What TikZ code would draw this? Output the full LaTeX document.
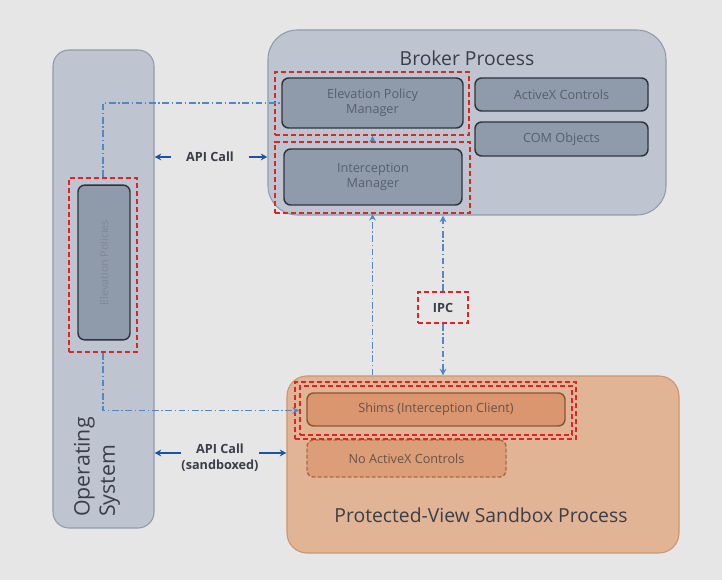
\documentclass[tikz,border=0pt]{standalone}
\usepackage{fontspec}
\setmainfont{Open Sans}
\usetikzlibrary{arrows.meta, positioning}
\definecolor{bgcol}{RGB}{230,230,231}
\definecolor{boxfill}{RGB}{190,197,208}
\definecolor{boxline}{RGB}{145,155,170}
\definecolor{partfill}{RGB}{143,154,170}
\definecolor{partline}{RGB}{45,52,62}
\definecolor{parttext}{RGB}{88,95,108}
\definecolor{sbfill}{RGB}{226,180,150}
\definecolor{sbline}{RGB}{205,148,110}
\definecolor{shimfill}{RGB}{218,150,110}
\definecolor{shimline}{RGB}{140,85,50}
\definecolor{shimtext}{RGB}{105,82,70}
\definecolor{noaxfill}{RGB}{220,158,120}
\definecolor{noaxline}{RGB}{175,105,60}
\definecolor{redline}{RGB}{225,35,35}
\definecolor{flowcol}{RGB}{85,135,195}
\definecolor{callcol}{RGB}{25,85,160}
\definecolor{titletext}{RGB}{58,62,72}

\begin{document}
\begin{tikzpicture}[x=0.75pt, y=-0.75pt,
  procbox/.style={draw=boxline, fill=boxfill, rounded corners=12pt, line width=0.8pt},
  part/.style={draw=partline, fill=partfill, rounded corners=5pt, line width=1.1pt,
    text=parttext, font=\fontsize{9.5}{11.5}\selectfont, align=center, inner sep=1pt},
  redbox/.style={draw=redline, dash pattern=on 4pt off 2pt, line width=1.4pt, inner sep=0pt},
  flow/.style={draw=flowcol, dash pattern=on 5pt off 2pt on 1pt off 2pt, line width=0.8pt},
  tip/.style={-{Stealth[length=5pt, width=5pt]}},
  call/.style={draw=callcol, line width=1pt, tip},
  title/.style={text=titletext, font=\fontsize{14.5}{17}\selectfont},
  lbl/.style={text=titletext, font=\bfseries\fontsize{9.5}{12}\selectfont, align=center}]

  \fill [bgcol] (0,0) rectangle (722,580);

  \node (os) [procbox, minimum width=75.75pt, minimum height=358.5pt] at (103.5,289) {};
  \node (ostext) [title, font=\fontsize{16}{19}\selectfont, rotate=90, anchor=west, align=left, inner sep=0pt] at (97,517) {Operating\\System};
  \node (broker) [procbox, rounded corners=22pt, minimum width=298.5pt, minimum height=138.75pt] at (467,122.5) {};
  \node (brokertext) [title] at (467,58) {Broker Process};
  \node (sandbox) [procbox, draw=sbline, fill=sbfill, rounded corners=15pt, minimum width=294pt, minimum height=132.75pt] at (483,464.5) {};
  \node (sandboxtext) [title] at (481,515) {Protected-View Sandbox Process};

  \node (ep) [part, rotate=90, minimum width=116pt, minimum height=39pt, text=parttext!75, font=\fontsize{8}{10}\selectfont] at (104,262.5) {Elevation Policies};
  \node (epm) [part, minimum width=135.75pt, minimum height=37.5pt] at (372.5,103) {Elevation Policy\\Manager};
  \node (im) [part, minimum width=133.5pt, minimum height=42pt] at (373,177) {Interception\\Manager};
  \node (ax) [part, minimum width=129.75pt, minimum height=24.75pt] at (561.5,94.5) {ActiveX Controls};
  \node (com) [part, minimum width=129.75pt, minimum height=25.5pt] at (561.5,139) {COM Objects};
  \node (shims) [part, draw=shimline, fill=shimfill, text=shimtext, minimum width=193.5pt, minimum height=24.75pt] at (436,409.5) {Shims (Interception Client)};
  \node (noax) [part, draw=noaxline, fill=noaxfill, text=shimtext, dash pattern=on 3pt off 1.5pt, minimum width=149.25pt, minimum height=27.75pt] at (406.5,458.5) {No ActiveX Controls};

  \node (epr) [redbox, minimum width=51pt, minimum height=130.5pt] at (103,265) {};
  \node (epmr) [redbox, minimum width=145.5pt, minimum height=47.25pt] at (372,103.5) {};
  \node (imr) [redbox, minimum width=146.25pt, minimum height=53.25pt] at (372.5,177.5) {};
  \node (shimsr) [redbox, minimum width=204pt, minimum height=36.75pt] at (436,410.5) {};
  \node (shimsrr) [redbox, minimum width=210.75pt, minimum height=42.75pt] at (435.5,410.5) {};
  \node (ipc) [redbox, lbl, minimum width=37.5pt, minimum height=23.25pt] at (443,307.5) {IPC};

  \draw [flow] (epr.north) |- (epm.west);
  \draw [flow, tip] (epr.south) |- (shimsr.west);
  \draw [flow, tip] (imr.south |- sandbox.north) -- (imr.south);
  \draw [flow, tip] (imr.north) -- (imr.north |- epmr.south);
  \draw [flow, tip] (ipc.north) -- (ipc |- broker.south);
  \draw [flow, tip] (ipc.south) -- (ipc |- sandbox.north);

  \node (api) [lbl, inner xsep=11pt] at (210,157) {API Call};
  \draw [call] (api.west) -- (api.west -| os.east);
  \draw [call] (api.east) -- (api.east -| broker.west);

  \node (apisb) [lbl, inner xsep=0pt] at (220,458) {API Call\\(sandboxed)};
  \coordinate (sbl) at ([yshift=3.75pt]apisb.west);
  \coordinate (sbr) at ([yshift=3.75pt]apisb.east);
  \draw [call] (sbl) -- (sbl -| os.east);
  \draw [call] (sbr) -- (sbr -| sandbox.west);
\end{tikzpicture}
\end{document}
